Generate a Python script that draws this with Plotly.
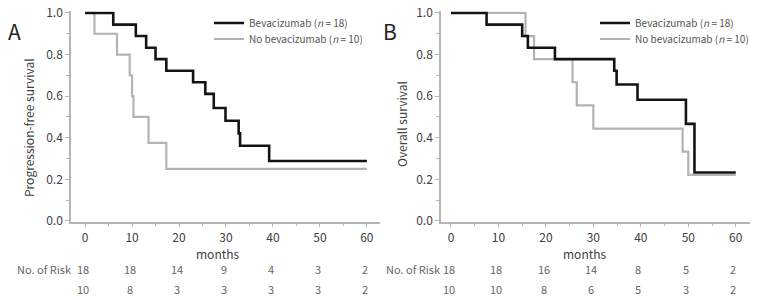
import plotly.graph_objects as go

# ---------------- data ----------------
# Panel A: progression-free survival
pfs_bev_t = [0, 6.0, 10.8, 13.0, 15.0, 17.3, 23.0, 25.6, 27.4, 29.9, 32.7, 33.0, 39.2, 60]
pfs_bev_s = [1.0, 0.944, 0.889, 0.833, 0.778, 0.722, 0.667, 0.611, 0.543, 0.482, 0.421, 0.362, 0.288, 0.288]
pfs_nobev_t = [0, 2.0, 6.8, 9.5, 10.0, 10.3, 13.5, 17.3, 60]
pfs_nobev_s = [1.0, 0.9, 0.8, 0.7, 0.6, 0.5, 0.375, 0.25, 0.25]

# Panel B: overall survival
os_bev_t = [0, 7.5, 15.0, 16.2, 21.9, 34.4, 34.9, 39.3, 49.5, 51.3, 60]
os_bev_s = [1.0, 0.944, 0.889, 0.833, 0.778, 0.722, 0.656, 0.583, 0.467, 0.233, 0.233]
os_nobev_t = [0, 15.7, 17.5, 25.6, 26.5, 30.0, 48.8, 50.0, 60]
os_nobev_s = [1.0, 0.889, 0.778, 0.667, 0.556, 0.444, 0.333, 0.222, 0.222]

risk_months = [0, 10, 20, 30, 40, 50, 60]
risk_a_bev = [18, 18, 14, 9, 4, 3, 2]
risk_a_nobev = [10, 8, 3, 3, 3, 3, 2]
risk_b_bev = [18, 18, 16, 14, 8, 5, 2]
risk_b_nobev = [10, 10, 8, 6, 5, 3, 2]

name_bev = "Bevacizumab (<i>n</i> = 18)"
name_nobev = "No bevacizumab (<i>n</i> = 10)"

# ---------------- style ----------------
FONT = "Noto Sans CJK JP"
BLACK = "#141414"
GRAY = "#b3b3b3"
AXIS = "#b5b5b5"
TXT = "#404040"
RISK = "#666666"

# page body has an 8px margin; figure sized to fill the rest of the window
OFF = 8
W, H = 761 - OFF, 300 - OFF


def px(X):
    return (X - OFF) / W


def py(Y):
    return 1 - (Y - OFF) / H


fig = go.Figure()


def add_km(t, s, color, width, name, xa, ya, legend):
    fig.add_trace(go.Scatter(
        x=t, y=s, mode="lines", line=dict(color=color, width=width, shape="hv"),
        name=name, xaxis=xa, yaxis=ya, legend=legend, showlegend=True,
        hoverinfo="skip"))


add_km(pfs_nobev_t, pfs_nobev_s, GRAY, 2.2, name_nobev, "x", "y", "legend2")
add_km(pfs_bev_t, pfs_bev_s, BLACK, 2.6, name_bev, "x", "y", "legend")
add_km(os_nobev_t, os_nobev_s, GRAY, 2.2, name_nobev, "x2", "y2", "legend4")
add_km(os_bev_t, os_bev_s, BLACK, 2.6, name_bev, "x2", "y2", "legend3")

ydom = [py(221.6), py(11.3)]
common_x = dict(showgrid=False, zeroline=False, showline=True, linecolor=AXIS, linewidth=1.5,
                ticks="outside", ticklen=4, tickcolor=AXIS, tickwidth=1,
                tickvals=risk_months, tickfont=dict(family=FONT, size=12, color=TXT),
                ticklabeloverflow="allow",
                minor=dict(dtick=5, tick0=0, ticks="outside", ticklen=3, tickcolor=AXIS))
common_y = dict(showgrid=False, zeroline=False, showline=True, linecolor=AXIS, linewidth=1.5,
                ticks="outside", ticklen=4, tickcolor=AXIS, tickwidth=1,
                range=[-0.003, 1.008], tickvals=[0, 0.2, 0.4, 0.6, 0.8, 1.0], tickformat=".1f",
                tickfont=dict(family=FONT, size=12, color=TXT),
                ticklabeloverflow="allow",
                minor=dict(dtick=0.1, tick0=0, ticks="outside", ticklen=3, tickcolor=AXIS),
                domain=ydom)


def leg(xs, ys):
    return dict(x=px(xs), y=py(ys), xanchor="left", yanchor="middle",
                bgcolor="rgba(0,0,0,0)", borderwidth=0,
                font=dict(family=FONT, size=10, color="#555555"))


fig.update_layout(
    width=W, height=H,
    margin=dict(l=0, r=0, t=0, b=0, autoexpand=False),
    paper_bgcolor="white", plot_bgcolor="white",
    font=dict(family=FONT, color=TXT),
    xaxis=dict(common_x, domain=[px(71), px(380)], range=[-3.0, 62.8], anchor="y"),
    yaxis=dict(common_y, anchor="x"),
    xaxis2=dict(common_x, domain=[px(441), px(750)], range=[-2.1, 63.0], anchor="y2"),
    yaxis2=dict(common_y, anchor="x2"),
    legend=leg(209, 23),
    legend2=leg(209, 39),
    legend3=leg(595, 23),
    legend4=leg(595, 39),
    showlegend=True,
)

ann = []


def add_text(text, x, y, size, color, xref="paper", angle=0):
    ann.append(dict(text=text, x=x, y=y, xref=xref, yref="paper", xanchor="center",
                    yanchor="middle", textangle=angle, showarrow=False,
                    font=dict(family=FONT, size=size, color=color)))


add_text("A", px(14), py(31), 21, "#222222")
add_text("B", px(390), py(31), 21, "#222222")
add_text("Progression-free survival", px(28), py(128), 12, TXT, angle=-90)
add_text("Overall survival", px(401), py(124), 12, TXT, angle=-90)
for xr in ("x", "x2"):
    add_text("months", 28.3, py(253), 12, TXT, xref=xr)
add_text("No. of Risk", px(44), py(269), 11, RISK)
add_text("No. of Risk", px(413), py(269), 11, RISK)
for xr, r1, r2 in (("x", risk_a_bev, risk_a_nobev), ("x2", risk_b_bev, risk_b_nobev)):
    for m, a, b in zip(risk_months, r1, r2):
        add_text(str(a), m - 0.5, py(269), 11, RISK, xref=xr)
        add_text(str(b), m - 0.5, py(289), 11, RISK, xref=xr)

fig.update_layout(annotations=ann)
fig.write_html("out.html")
